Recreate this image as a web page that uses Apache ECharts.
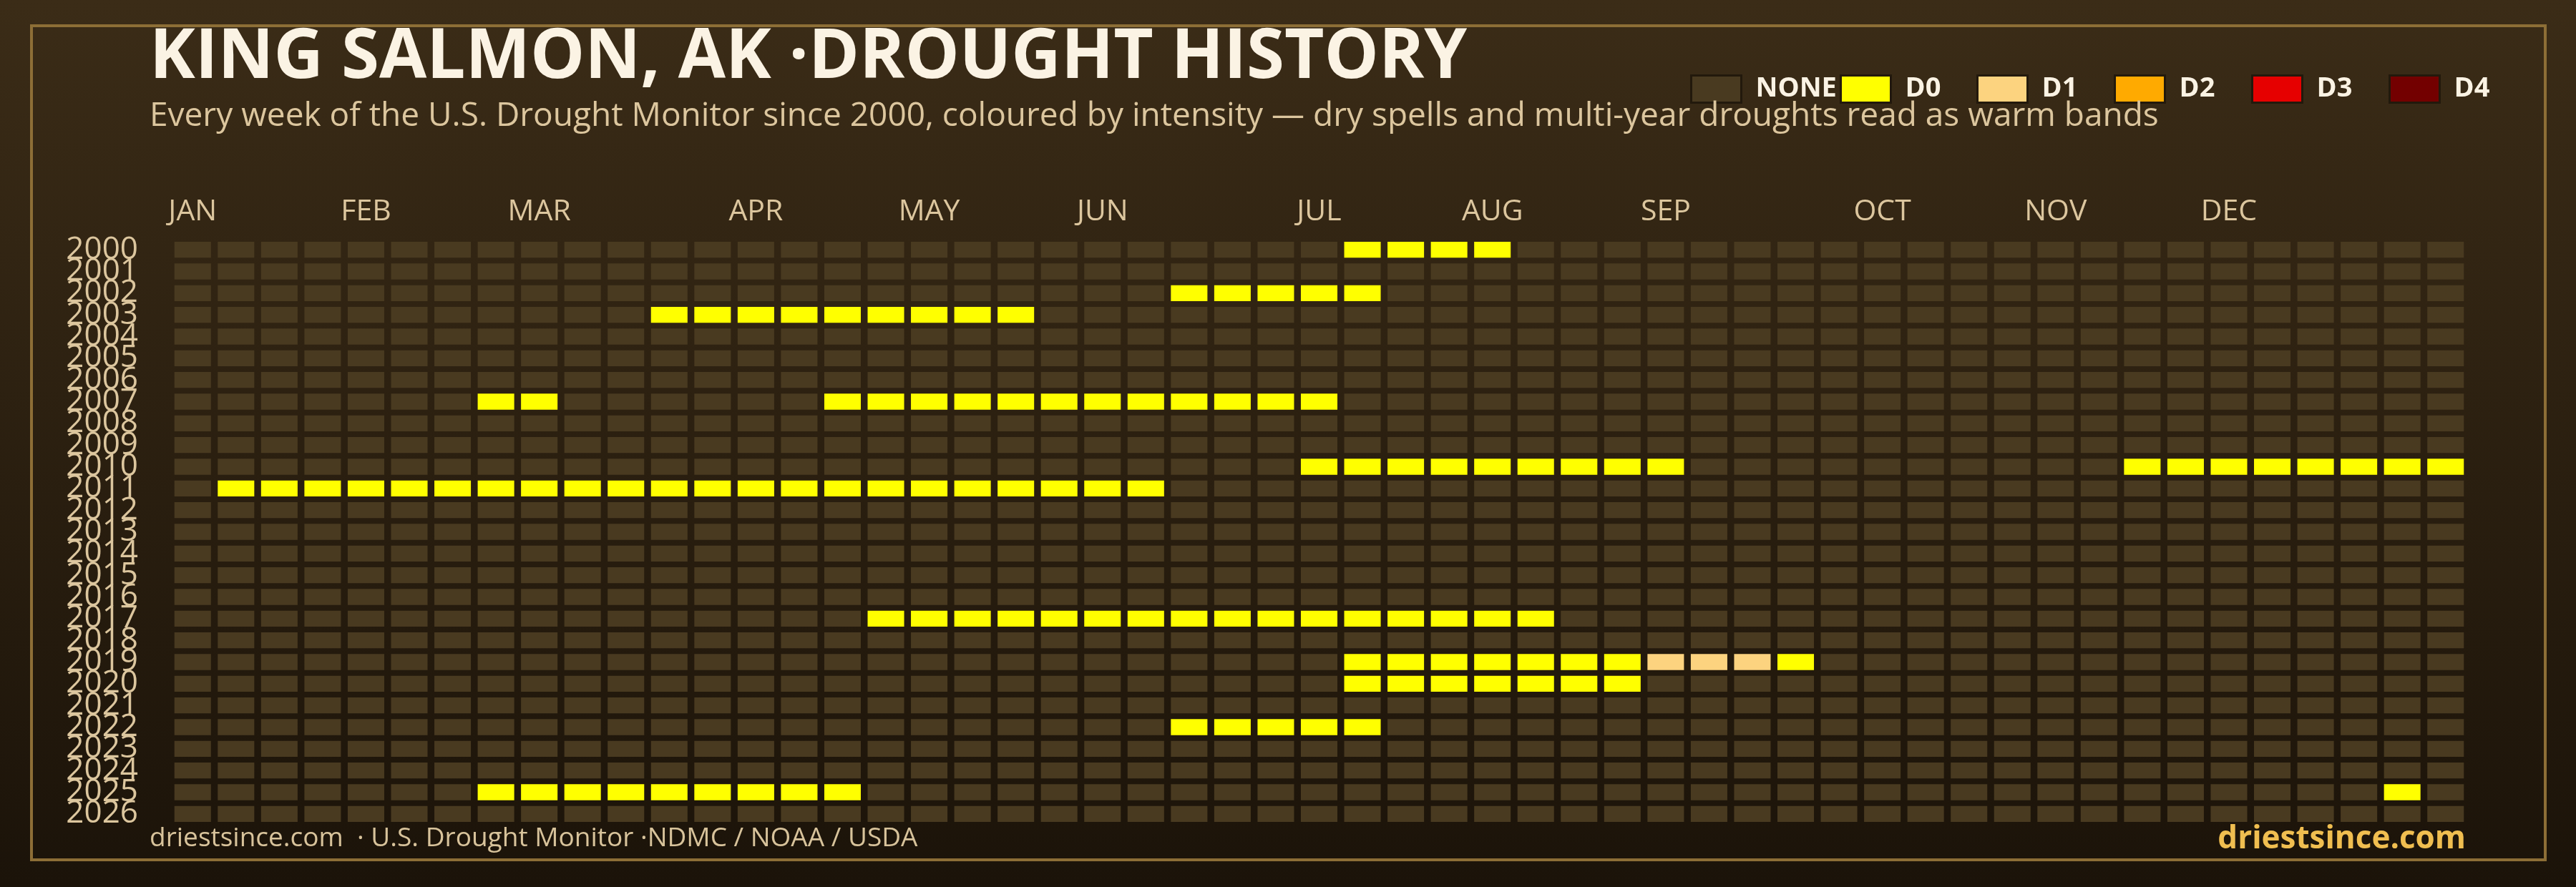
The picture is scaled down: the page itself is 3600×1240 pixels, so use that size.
<!DOCTYPE html>
<html>
<head>
<meta charset="utf-8">
<script src="https://cdn.jsdelivr.net/npm/echarts@6/dist/echarts.min.js"></script>
<style>
  html, body { margin: 0; padding: 0; background: #1b1309; }
  #chart { width: 3600px; height: 1240px; }
</style>
</head>
<body>
<div id="chart"></div>
<script>
// ---------- data ----------
const YEARS = ['2000','2001','2002','2003','2004','2005','2006','2007','2008','2009',
  '2010','2011','2012','2013','2014','2015','2016','2017','2018','2019',
  '2020','2021','2022','2023','2024','2025','2026'];

const WEEKS = ['1','2','3','4','5','6','7','8','9','10','11','12','13','14','15','16','17','18',
  '19','20','21','22','23','24','25','26','27','28','29','30','31','32','33','34','35','36',
  '37','38','39','40','41','42','43','44','45','46','47','48','49','50','51','52','53'];

const MONTH_LABELS = ['JAN','FEB','MAR','APR','MAY','JUN','JUL','AUG','SEP','OCT','NOV','DEC'];
const MONTH_WEEK_INDEX = [0, 4, 8, 13, 17, 21, 26, 30, 34, 39, 43, 47];

const LEVEL_NAMES = ['NONE', 'D0', 'D1', 'D2', 'D3', 'D4'];
const LEVEL_CODES = ['.', '0', '1', '2', '3', '4'];
const LEVEL_COLORS = ['#493a20', '#ffff00', '#fcd37f', '#ffaa00', '#e60000', '#730000'];

// weekly intensity per year ('.' none, '0' D0, '1' D1 ...), '|' separates groups of 10 weeks
const WEEKLY_INTENSITY = [
  '..........|..........|.......000|0.........|..........|...', // 2000
  '..........|..........|..........|..........|..........|...', // 2001
  '..........|..........|...00000..|..........|..........|...', // 2002
  '..........|.000000000|..........|..........|..........|...', // 2003
  '..........|..........|..........|..........|..........|...', // 2004
  '..........|..........|..........|..........|..........|...', // 2005
  '..........|..........|..........|..........|..........|...', // 2006
  '.......00.|.....00000|0000000...|..........|..........|...', // 2007
  '..........|..........|..........|..........|..........|...', // 2008
  '..........|..........|..........|..........|..........|...', // 2009
  '..........|..........|......0000|00000.....|.....00000|000', // 2010
  '.000000000|0000000000|000.......|..........|..........|...', // 2011
  '..........|..........|..........|..........|..........|...', // 2012
  '..........|..........|..........|..........|..........|...', // 2013
  '..........|..........|..........|..........|..........|...', // 2014
  '..........|..........|..........|..........|..........|...', // 2015
  '..........|..........|..........|..........|..........|...', // 2016
  '..........|......0000|0000000000|00........|..........|...', // 2017
  '..........|..........|..........|..........|..........|...', // 2018
  '..........|..........|.......000|00001110..|..........|...', // 2019
  '..........|..........|.......000|0000......|..........|...', // 2020
  '..........|..........|..........|..........|..........|...', // 2021
  '..........|..........|...00000..|..........|..........|...', // 2022
  '..........|..........|..........|..........|..........|...', // 2023
  '..........|..........|..........|..........|..........|...', // 2024
  '.......000|000000....|..........|..........|..........|.0.', // 2025
  '..........|..........|..........|..........|..........|...'  // 2026
];

// ---------- build series data ----------
const rows = WEEKLY_INTENSITY.map(r => r.replace(/\|/g, ''));
const seriesData = LEVEL_CODES.map(() => []);
rows.forEach((row, yi) => {
  for (let wi = 0; wi < row.length; wi++) {
    const li = LEVEL_CODES.indexOf(row[wi]);
    if (li >= 0) seriesData[li].push([wi, yi]);
  }
});

const FONT = 'Open Sans';
const GAP_X = 9.5, GAP_Y = 8;

function renderCell(params, api) {
  const c = api.coord([api.value(0), api.value(1)]);
  const s = api.size([1, 1]);
  return {
    type: 'rect',
    shape: { x: c[0] - s[0] / 2 + GAP_X / 2, y: c[1] - s[1] / 2 + GAP_Y / 2,
             width: s[0] - GAP_X, height: s[1] - GAP_Y },
    style: api.style()
  };
}

const series = LEVEL_NAMES.map((name, i) => ({
  name: name,
  type: 'custom',
  renderItem: renderCell,
  itemStyle: { color: LEVEL_COLORS[i] },
  encode: { x: 0, y: 1 },
  data: seriesData[i],
  silent: true,
  animation: false
}));

// one legend block per level, laid out left to right
const LEGEND_LEFT = [2362, 2571, 2762, 2954, 3146, 3338];
const legends = LEVEL_NAMES.map((name, i) => ({
  left: LEGEND_LEFT[i], top: 104, padding: 0,
  orient: 'horizontal',
  itemWidth: 70, itemHeight: 38,
  icon: 'rect',
  selectedMode: false,
  itemStyle: { borderColor: '#22190c', borderWidth: 3 },
  textStyle: { fontFamily: FONT, fontWeight: 'bold', fontSize: 38, color: '#fbf3e4', padding: [0, 0, 0, 15] },
  data: [name]
}));

const chart = echarts.init(document.getElementById('chart'), null, { renderer: 'canvas' });

chart.setOption({
  animation: false,
  backgroundColor: {
    type: 'linear', x: 0, y: 0, x2: 0, y2: 1,
    colorStops: [{ offset: 0, color: '#3b2c17' }, { offset: 1, color: '#1b1309' }]
  },
  title: [
    { text: 'KING SALMON, AK ·DROUGHT HISTORY', left: 209, top: 34, padding: 0,
      textStyle: { fontFamily: FONT, fontWeight: 'bold', fontSize: 96, color: '#fbf3e4' } },
    { text: 'Every week of the U.S. Drought Monitor since 2000, coloured by intensity — dry spells and multi-year droughts read as warm bands',
      left: 209, top: 140, padding: 0,
      textStyle: { fontFamily: FONT, fontWeight: 'normal', fontSize: 46, color: '#dcc69e' } },
    { text: 'driestsince.com  · U.S. Drought Monitor ·NDMC / NOAA / USDA', left: 209, top: 1154, padding: 0,
      textStyle: { fontFamily: FONT, fontWeight: 'normal', fontSize: 37, color: '#d8c39b' } },
    { text: 'driestsince.com', right: 154, top: 1151, padding: 0,
      textStyle: { fontFamily: FONT, fontWeight: 'bold', fontSize: 44, color: '#f0be50' } }
  ],
  legend: legends,
  grid: { left: 239, top: 334, width: 3209, height: 819, containLabel: false },
  xAxis: {
    type: 'category', position: 'top', data: WEEKS,
    axisLine: { show: false }, axisTick: { show: false }, splitLine: { show: false },
    axisLabel: {
      interval: 0, margin: 17, fontFamily: FONT, fontSize: 41, color: '#dcc69e',
      formatter: (v, idx) => {
        const k = MONTH_WEEK_INDEX.indexOf(idx);
        return k >= 0 ? MONTH_LABELS[k] : '';
      }
    }
  },
  yAxis: {
    type: 'category', data: YEARS, inverse: true,
    axisLine: { show: false }, axisTick: { show: false }, splitLine: { show: false },
    axisLabel: { interval: 0, margin: 46, fontFamily: FONT, fontSize: 44, color: '#dcc69e' }
  },
  graphic: [
    { type: 'rect', z: 0, silent: true,
      shape: { x: 44, y: 36, width: 3513, height: 1166 },
      style: { fill: null, stroke: '#8d6e36', lineWidth: 4 } }
  ],
  series: series
});
</script>
</body>
</html>
